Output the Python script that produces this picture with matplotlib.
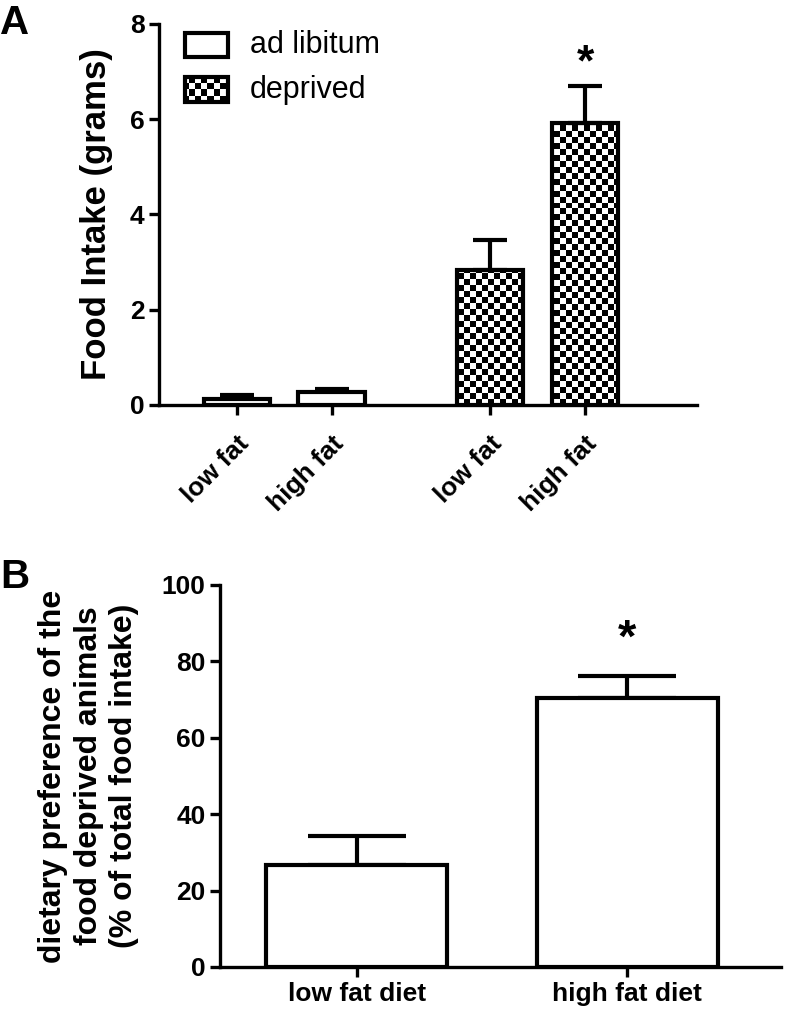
import matplotlib.pyplot as plt
import numpy as np
from matplotlib.patches import Rectangle

plt.rcParams['font.family'] = ['Liberation Sans', 'DejaVu Sans']

# panel A: food intake
a_labels = ['low fat', 'high fat', 'low fat', 'high fat']
a_group = ['ad libitum', 'ad libitum', 'deprived', 'deprived']
a_mean = [0.12, 0.27, 2.84, 5.92]
a_sem = [0.08, 0.07, 0.62, 0.78]
a_star = [False, False, False, True]
groups = ['ad libitum', 'deprived']

# panel B: dietary preference
b_labels = ['low fat diet', 'high fat diet']
b_mean = [26.7, 70.4]
b_sem = [7.6, 5.8]
b_star = [False, True]

LW = 3.0


def checker(nx, ny):
    return (np.add.outer(np.arange(ny), np.arange(nx)) % 2).astype(float)


def style_axes(ax):
    for s in ['top', 'right']:
        ax.spines[s].set_visible(False)
    for s in ['left', 'bottom']:
        ax.spines[s].set_linewidth(2.4)
    ax.tick_params(width=2.4, length=7, labelsize=19)
    for t in ax.get_yticklabels():
        t.set_fontweight('bold')


fig = plt.figure(figsize=(7.94, 10.11), dpi=100)

# ---------- A ----------
axA = fig.add_axes([159 / 794, 1 - 405 / 1011, 538 / 794, 381 / 1011])
xA = np.array([0, 1, 2.67, 3.67])
pattern = checker(90, 64)
for x, m, e, g, s in zip(xA, a_mean, a_sem, a_group, a_star):
    bar = axA.bar(x, m, width=0.7, color='white', edgecolor='black',
                  linewidth=LW, zorder=3, fill=(g == 'ad libitum'))[0]
    axA.errorbar(x, m, yerr=[[0], [e]], fmt='none', ecolor='black',
                 elinewidth=LW, capsize=12.5, capthick=LW, zorder=2)
    if g == 'deprived':
        im = axA.imshow(pattern, cmap='gray', extent=(0, 1, 0, 1),
                        transform=axA.transAxes, aspect='auto',
                        interpolation='nearest', zorder=1)
        im.set_clip_path(bar)
    if s:
        axA.annotate('*', (x, m + e), xytext=(0, 1), textcoords='offset points',
                     ha='center', va='bottom', fontsize=32, fontweight='bold')
axA.set_xlim(-0.82, 4.85)
axA.set_ylim(0, 8)
axA.set_yticks([0, 2, 4, 6, 8])
axA.set_xticks(xA)
axA.set_xticklabels(a_labels, rotation=45, ha='right', rotation_mode='anchor',
                    fontsize=21, fontweight='bold')
axA.set_ylabel('Food Intake (grams)', fontsize=25, fontweight='bold', labelpad=12)
style_axes(axA)
axA.tick_params(axis='x', pad=12)

# legend drawn by hand so the checker pattern shows
leg_y = [0.945, 0.828]
for g, y in zip(groups, leg_y):
    r = Rectangle((0.048, y - 0.032), 0.08, 0.064, transform=axA.transAxes,
                  facecolor='white', edgecolor='black', linewidth=LW,
                  fill=(g == 'ad libitum'), clip_on=False, zorder=5)
    axA.add_patch(r)
    if g == 'deprived':
        im = axA.imshow(checker(90, 64), cmap='gray', extent=(0, 1, 0, 1),
                        transform=axA.transAxes, aspect='auto',
                        interpolation='nearest', zorder=4)
        im.set_clip_path(r)
    axA.text(0.169, y, g, transform=axA.transAxes, fontsize=22, va='center')

# ---------- B ----------
axB = fig.add_axes([220 / 794, 1 - 967 / 1011, 561 / 794, 382 / 1011])
xB = np.arange(len(b_labels))
for x, m, e, s in zip(xB, b_mean, b_sem, b_star):
    axB.bar(x, m, width=0.67, color='white', edgecolor='black',
            linewidth=LW, zorder=3)
    axB.errorbar(x, m, yerr=[[0], [e]], fmt='none', ecolor='black',
                 elinewidth=LW, capsize=35, capthick=LW, zorder=2)
    if s:
        axB.annotate('*', (x, m + e), xytext=(0, 10), textcoords='offset points',
                     ha='center', va='bottom', fontsize=34, fontweight='bold')
axB.set_xlim(-0.507, 1.57)
axB.set_ylim(0, 100)
axB.set_yticks(range(0, 101, 20))
axB.set_xticks(xB)
axB.set_xticklabels(b_labels, fontsize=21.5, fontweight='bold')
axB.set_ylabel('dietary preference of the\nfood deprived animals\n(% of total food intake)',
               fontsize=23, fontweight='bold', labelpad=16, linespacing=1.25)
style_axes(axB)

fig.text(0.0, 0.996, 'A', fontsize=29, fontweight='bold', va='top')
fig.text(0.0, 0.448, 'B', fontsize=29, fontweight='bold', va='top')

fig.savefig('out.png', dpi=100)
